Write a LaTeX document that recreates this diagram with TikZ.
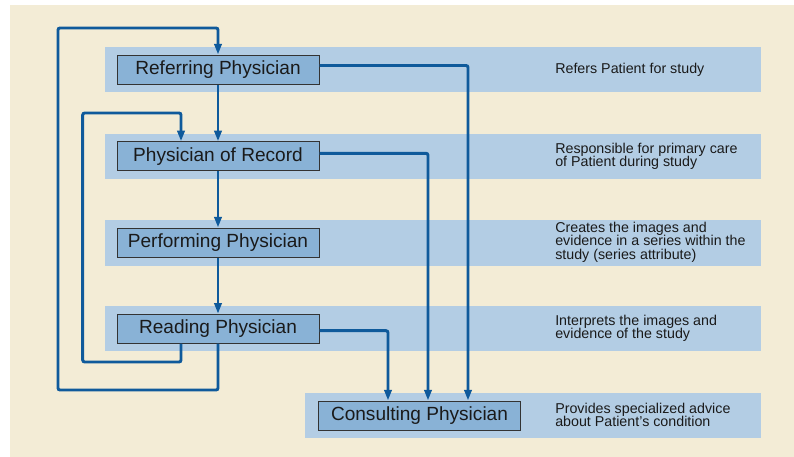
\documentclass[tikz,border=0pt]{standalone}
\usepackage{fontspec}
\setmainfont{Liberation Sans}
\usetikzlibrary{arrows.meta}
\definecolor{beige}{RGB}{243,236,214}
\definecolor{band}{RGB}{179,205,228}
\definecolor{boxfill}{RGB}{137,178,214}
\definecolor{linec}{RGB}{15,90,155}
\definecolor{txt}{RGB}{26,26,26}
\tikzset{
  bandbox/.style={fill=band, draw=none},
  rolebox/.style={draw=black!80, line width=0.75pt, fill=boxfill, minimum width=151.5pt, minimum height=21.75pt, inner sep=0pt, text=txt, font=\fontsize{14.3}{17}\selectfont},
  desc/.style={anchor=west, align=left, inner sep=0pt, text=txt, font=\fontsize{10.7}{10}\selectfont},
  conn/.style={draw=linec, line width=2.2pt, rounded corners=1.5pt, -{Triangle[length=8pt,width=5.5pt]}},
}
\begin{document}
\begin{tikzpicture}[x=0.75pt,y=-0.75pt]
\useasboundingbox (0,0) rectangle (794,457);
\fill[white] (0,0) rectangle (794,457);
\fill[beige] (10,5) rectangle (794,457);
% bands
\fill[bandbox] (105,47) rectangle (761,92);
\fill[bandbox] (105,134) rectangle (761,179);
\fill[bandbox] (105,220) rectangle (761,265.7);
\fill[bandbox] (105,306) rectangle (761,351);
\fill[bandbox] (305,393.3) rectangle (761,437.7);
% role boxes
\node[rolebox] (ref)  at (218,69.5)  {Referring Physician};
\node[rolebox] (rec)  at (218,156.3) {Physician of Record};
\node[rolebox] (perf) at (218,242.5) {Performing Physician};
\node[rolebox] (read) at (218,328.7) {Reading Physician};
\node[rolebox] (cons) at (419.5,415.5) {Consulting Physician};
% descriptions
\node[desc] (d1) at (555,69.5) {Refers Patient for study};
\node[desc] (d2) at (555,156) {Responsible for primary care\\of Patient during study};
\node[desc] (d3) at (555,242.3) {Creates the images and\\evidence in a series within the\\study (series attribute)};
\node[desc] (d4) at (555,328.3) {Interprets the images and\\evidence of the study};
\node[desc] (d5) at (555,415) {Provides specialized advice\\about Patient's condition};
% vertical chain
\draw[conn] (ref.south) -- (rec.north);
\draw[conn] (rec.south) -- (perf.north);
\draw[conn] (perf.south) -- (read.north);
% outer loop
\draw[conn] (read.south) -- (218,390) -- (58,390) -- (58,28) -- (218,28) -- (ref.north);
% inner loop
\draw[conn] (181,0 |- read.south) -- (181,362) -- (82.7,362) -- (82.7,113) -- (181,113) -- (181,0 |- rec.north);
% to consulting
\draw[conn] (ref.east |- 0,65.5) -| (cons.north -| 468,0);
\draw[conn] (rec.east |- 0,153.3) -| (cons.north -| 428,0);
\draw[conn] (read.east |- 0,330.7) -| (cons.north -| 388,0);
\end{tikzpicture}
\end{document}
